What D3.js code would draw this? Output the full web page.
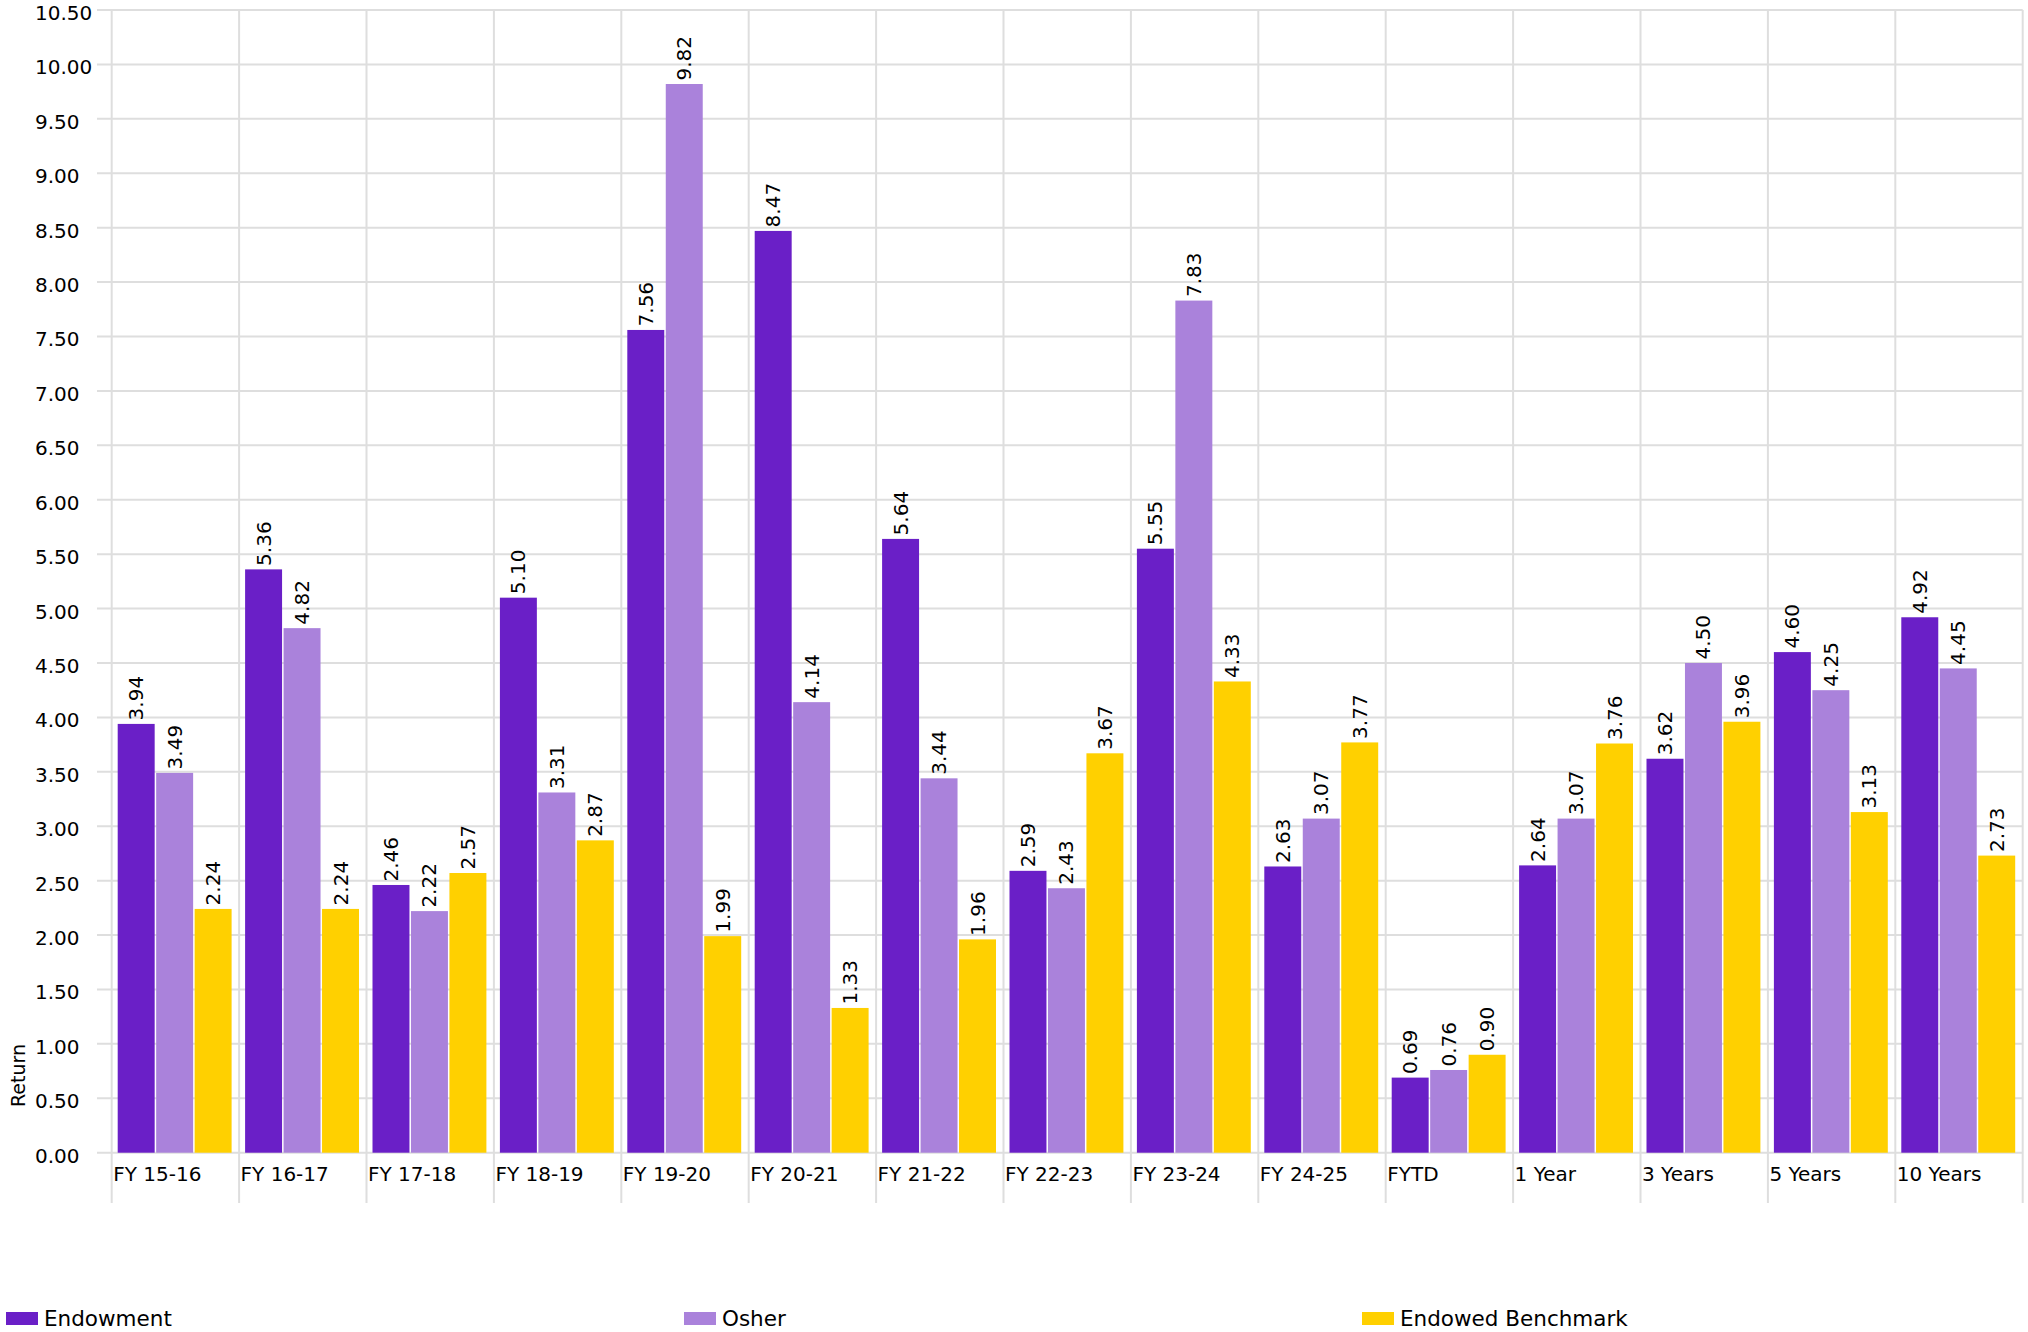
<!DOCTYPE html>
<html>
<head>
  <meta charset="UTF-8" />
  <script src="https://d3js.org/d3.v7.min.js"></script>
  <style>
    body { margin: 0; background: #fff; }
    text { font-family: "DejaVu Sans", Verdana, sans-serif; fill: #000; }
  </style>
</head>
<body>
  <script>
    // chart data
    var categories = ["FY 15-16", "FY 16-17", "FY 17-18", "FY 18-19", "FY 19-20", "FY 20-21",
      "FY 21-22", "FY 22-23", "FY 23-24", "FY 24-25", "FYTD", "1 Year", "3 Years", "5 Years", "10 Years"];
    var seriesNames = ["Endowment", "Osher", "Endowed Benchmark"];
    var endowment = [3.94, 5.36, 2.46, 5.10, 7.56, 8.47, 5.64, 2.59, 5.55, 2.63, 0.69, 2.64, 3.62, 4.60, 4.92];
    var osher = [3.49, 4.82, 2.22, 3.31, 9.82, 4.14, 3.44, 2.43, 7.83, 3.07, 0.76, 3.07, 4.50, 4.25, 4.45];
    var benchmark = [2.24, 2.24, 2.57, 2.87, 1.99, 1.33, 1.96, 3.67, 4.33, 3.77, 0.90, 3.76, 3.96, 3.13, 2.73];
    var yTicks = d3.range(0, 10.51, 0.5);
    var colors = ["#6a1fc7", "#aa82db", "#ffd000"];

    var W = 2028, H = 1332;
    var plot = { left: 111.7, right: 2022.7, top: 10, bottom: 1152.7 };

    var svg = d3.select("body").append("svg")
      .attr("width", W)
      .attr("height", H);

    var x = d3.scaleBand()
      .domain(categories)
      .range([plot.left, plot.right]);

    var xInner = d3.scaleBand()
      .domain(d3.range(seriesNames.length))
      .range([6, x.bandwidth() - 6]);

    var y = d3.scaleLinear()
      .domain([0, 10.5])
      .range([plot.bottom, plot.top]);

    // horizontal grid + tick labels
    var grid = svg.append("g");
    grid.selectAll("line.h")
      .data(yTicks)
      .enter().append("line")
      .attr("class", "h")
      .attr("x1", 97).attr("x2", plot.right)
      .attr("y1", function (d) { return y(d); })
      .attr("y2", function (d) { return y(d); })
      .attr("stroke", "#dedede")
      .attr("stroke-width", 2);

    // vertical grid lines (band edges), extending below the axis
    var edges = categories.map(function (c) { return x(c); }).concat([plot.right]);
    grid.selectAll("line.v")
      .data(edges)
      .enter().append("line")
      .attr("class", "v")
      .attr("x1", function (d) { return d; })
      .attr("x2", function (d) { return d; })
      .attr("y1", plot.top)
      .attr("y2", 1203)
      .attr("stroke", "#dedede")
      .attr("stroke-width", 2);

    svg.append("g").selectAll("text")
      .data(yTicks)
      .enter().append("text")
      .attr("x", 35)
      .attr("y", function (d) { return y(d) + 10; })
      .style("font-size", "20px")
      .text(function (d) { return d3.format(".2f")(d); });

    // y axis title
    svg.append("text")
      .attr("transform", "translate(25,1107) rotate(-90)")
      .style("font-size", "19px")
      .text("Return");

    // bars
    var seriesData = [endowment, osher, benchmark];
    var groups = svg.append("g").selectAll("g")
      .data(categories)
      .enter().append("g")
      .attr("transform", function (d) { return "translate(" + x(d) + ",0)"; });

    groups.each(function (cat, ci) {
      var g = d3.select(this);
      var vals = seriesData.map(function (s, si) { return { si: si, v: s[ci] }; });

      g.selectAll("rect")
        .data(vals)
        .enter().append("rect")
        .attr("x", function (d) { return xInner(d.si); })
        .attr("width", xInner.bandwidth() - 1.5)
        .attr("y", function (d) { return y(d.v); })
        .attr("height", function (d) { return y(0) - y(d.v); })
        .attr("fill", function (d) { return colors[d.si]; });

      g.selectAll("text")
        .data(vals)
        .enter().append("text")
        .attr("transform", function (d) {
          var cx = xInner(d.si) + (xInner.bandwidth() - 1.5) / 2;
          return "translate(" + (cx + 7) + "," + (y(d.v) - 3.5) + ") rotate(-90)";
        })
        .style("font-size", "20px")
        .text(function (d) { return d3.format(".2f")(d.v); });
    });

    // category labels
    svg.append("g").selectAll("text")
      .data(categories)
      .enter().append("text")
      .attr("x", function (d) { return x(d) + 1.5; })
      .attr("y", 1181)
      .style("font-size", "20px")
      .text(function (d) { return d; });

    // legend
    var legend = svg.append("g").selectAll("g")
      .data(seriesNames)
      .enter().append("g")
      .attr("transform", function (d, i) { return "translate(" + (6 + i * 678) + ",1312)"; });

    legend.append("rect")
      .attr("width", 32)
      .attr("height", 13)
      .attr("fill", function (d, i) { return colors[i]; });

    legend.append("text")
      .attr("x", 38)
      .attr("y", 14)
      .style("font-size", "21.5px")
      .text(function (d) { return d; });
  </script>
</body>
</html>
